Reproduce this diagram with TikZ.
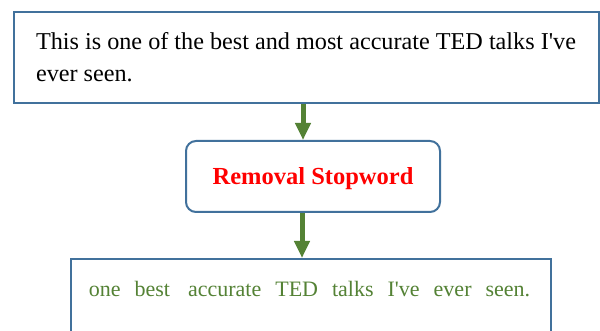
\documentclass[tikz,border=0pt]{standalone}
\usepackage{fontspec}
\newfontfamily\tnr{Liberation Serif}
\usetikzlibrary{arrows.meta}
\definecolor{boxblue}{RGB}{65,113,156}
\definecolor{arrgreen}{RGB}{84,130,53}
\definecolor{txtgreen}{RGB}{84,130,53}
\begin{document}
\begin{tikzpicture}[x=1pt,y=-1pt,
  box/.style={draw=boxblue,line width=2pt,fill=white,inner sep=0pt},
  flow/.style={draw=arrgreen,line width=5pt,-{Triangle[width=15pt,length=17pt]}},
]
\useasboundingbox[fill=white] (0,0) rectangle (600,331);
\node[box,minimum width=585pt,minimum height=91pt,align=left,
      font=\tnr\fontsize{24.2}{32}\selectfont] (src) at (306,57.5)
  {This is one of the best and most accurate TED talks I've\\ever seen.\hfill\null};
\node[box,rounded corners=10pt,minimum width=254pt,minimum height=71pt,
      font=\tnr\bfseries\fontsize{24.5}{29}\selectfont,text=red,
      text height=17pt,text depth=0pt] (stop) at (313,176.5) {Removal Stopword};
\node[box,minimum width=480pt,minimum height=100pt] (out) at (311,309) {};
\node[font=\tnr\fontsize{22}{26}\selectfont,text=txtgreen,anchor=base,inner sep=0pt]
  (outtext) at ([xshift=-1.5pt,yshift=-39pt]out.north)
  {one\hspace{14pt}best\hspace{18pt}accurate\hspace{14pt}TED\hspace{14pt}talks\hspace{14pt}I've\hspace{14pt}ever\hspace{14pt}seen.};
\draw[flow] ([xshift=-3pt]src.south) -- ([xshift=-10pt]stop.north);
\draw[flow] ([xshift=-11pt]stop.south) -- ([xshift=-9pt]out.north);
\end{tikzpicture}
\end{document}
